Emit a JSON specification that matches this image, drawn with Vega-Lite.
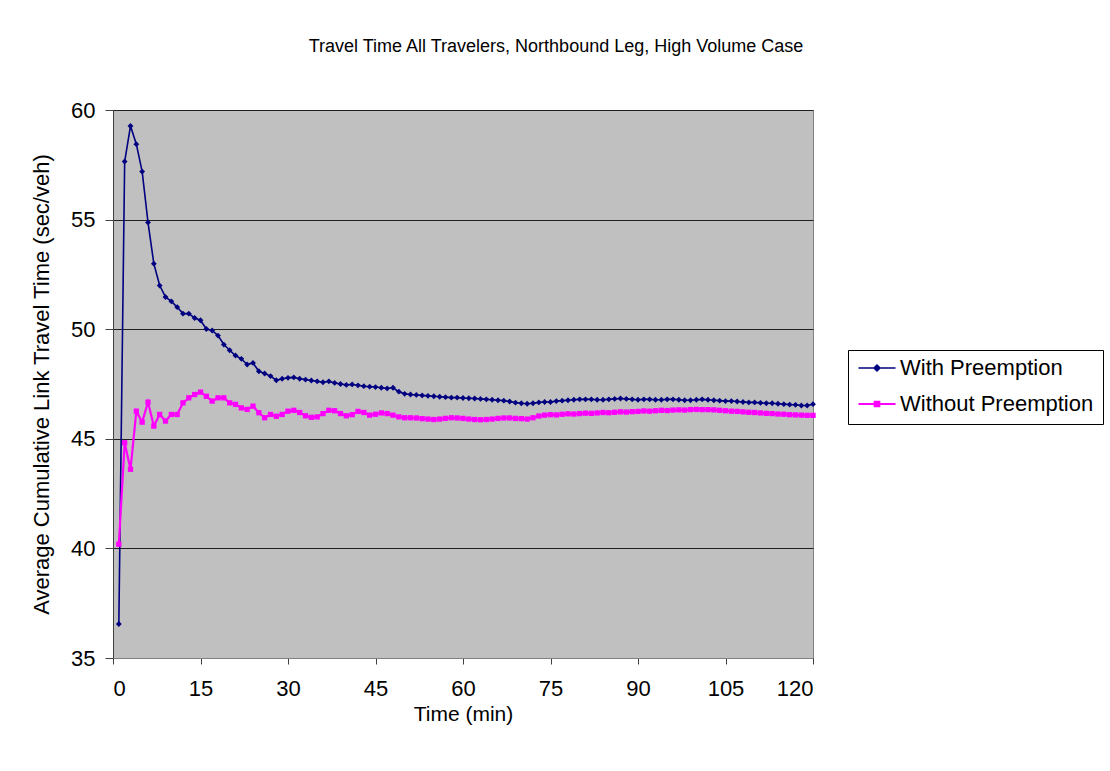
{
  "$schema": "https://vega.github.io/schema/vega-lite/v6.json",
  "width": 700,
  "height": 548,
  "autosize": {"type": "none"},
  "padding": {"left": 113, "top": 110, "right": 297, "bottom": 113},
  "background": "white",
  "config": {
    "font": "Liberation Sans",
    "view": {"fill": "#C0C0C0", "stroke": "#808080", "strokeWidth": 1}
  },
  "title": {
    "text": "Travel Time All Travelers, Northbound Leg, High Volume Case",
    "fontSize": 18,
    "fontWeight": "normal",
    "color": "black",
    "font": "Liberation Sans",
    "anchor": "middle",
    "dx": 93,
    "offset": 43
  },
  "data": {
    "values": [
      {"t":1,"With Preemption":36.55,"Without Preemption":40.19},
      {"t":2,"With Preemption":57.65,"Without Preemption":44.82},
      {"t":3,"With Preemption":59.27,"Without Preemption":43.61},
      {"t":4,"With Preemption":58.44,"Without Preemption":46.26},
      {"t":5,"With Preemption":57.19,"Without Preemption":45.76},
      {"t":6,"With Preemption":54.87,"Without Preemption":46.67},
      {"t":7,"With Preemption":52.99,"Without Preemption":45.58},
      {"t":8,"With Preemption":51.99,"Without Preemption":46.11},
      {"t":9,"With Preemption":51.47,"Without Preemption":45.81},
      {"t":10,"With Preemption":51.27,"Without Preemption":46.11},
      {"t":11,"With Preemption":51.01,"Without Preemption":46.11},
      {"t":12,"With Preemption":50.71,"Without Preemption":46.64},
      {"t":13,"With Preemption":50.71,"Without Preemption":46.87},
      {"t":14,"With Preemption":50.51,"Without Preemption":47.02},
      {"t":15,"With Preemption":50.41,"Without Preemption":47.13},
      {"t":16,"With Preemption":50.01,"Without Preemption":46.94},
      {"t":17,"With Preemption":49.94,"Without Preemption":46.72},
      {"t":18,"With Preemption":49.71,"Without Preemption":46.87},
      {"t":19,"With Preemption":49.30,"Without Preemption":46.87},
      {"t":20,"With Preemption":49.04,"Without Preemption":46.64},
      {"t":21,"With Preemption":48.80,"Without Preemption":46.57},
      {"t":22,"With Preemption":48.65,"Without Preemption":46.41},
      {"t":23,"With Preemption":48.39,"Without Preemption":46.34},
      {"t":24,"With Preemption":48.46,"Without Preemption":46.49},
      {"t":25,"With Preemption":48.08,"Without Preemption":46.19},
      {"t":26,"With Preemption":47.98,"Without Preemption":45.96},
      {"t":27,"With Preemption":47.86,"Without Preemption":46.11},
      {"t":28,"With Preemption":47.67,"Without Preemption":46.03},
      {"t":29,"With Preemption":47.74,"Without Preemption":46.11},
      {"t":30,"With Preemption":47.78,"Without Preemption":46.26},
      {"t":31,"With Preemption":47.80,"Without Preemption":46.30},
      {"t":32,"With Preemption":47.74,"Without Preemption":46.20},
      {"t":33,"With Preemption":47.70,"Without Preemption":46.05},
      {"t":34,"With Preemption":47.66,"Without Preemption":45.98},
      {"t":35,"With Preemption":47.62,"Without Preemption":46.00},
      {"t":36,"With Preemption":47.58,"Without Preemption":46.15},
      {"t":37,"With Preemption":47.62,"Without Preemption":46.30},
      {"t":38,"With Preemption":47.55,"Without Preemption":46.28},
      {"t":39,"With Preemption":47.50,"Without Preemption":46.15},
      {"t":40,"With Preemption":47.46,"Without Preemption":46.05},
      {"t":41,"With Preemption":47.48,"Without Preemption":46.10},
      {"t":42,"With Preemption":47.44,"Without Preemption":46.25},
      {"t":43,"With Preemption":47.40,"Without Preemption":46.20},
      {"t":44,"With Preemption":47.38,"Without Preemption":46.08},
      {"t":45,"With Preemption":47.36,"Without Preemption":46.12},
      {"t":46,"With Preemption":47.33,"Without Preemption":46.18},
      {"t":47,"With Preemption":47.30,"Without Preemption":46.15},
      {"t":48,"With Preemption":47.33,"Without Preemption":46.08},
      {"t":49,"With Preemption":47.15,"Without Preemption":46.00},
      {"t":50,"With Preemption":47.05,"Without Preemption":45.96},
      {"t":51,"With Preemption":47.02,"Without Preemption":45.96},
      {"t":52,"With Preemption":47.00,"Without Preemption":45.95},
      {"t":53,"With Preemption":46.98,"Without Preemption":45.92},
      {"t":54,"With Preemption":46.96,"Without Preemption":45.90},
      {"t":55,"With Preemption":46.94,"Without Preemption":45.88},
      {"t":56,"With Preemption":46.92,"Without Preemption":45.90},
      {"t":57,"With Preemption":46.90,"Without Preemption":45.93},
      {"t":58,"With Preemption":46.88,"Without Preemption":45.96},
      {"t":59,"With Preemption":46.88,"Without Preemption":45.95},
      {"t":60,"With Preemption":46.86,"Without Preemption":45.93},
      {"t":61,"With Preemption":46.85,"Without Preemption":45.90},
      {"t":62,"With Preemption":46.84,"Without Preemption":45.88},
      {"t":63,"With Preemption":46.82,"Without Preemption":45.87},
      {"t":64,"With Preemption":46.80,"Without Preemption":45.88},
      {"t":65,"With Preemption":46.78,"Without Preemption":45.90},
      {"t":66,"With Preemption":46.76,"Without Preemption":45.93},
      {"t":67,"With Preemption":46.74,"Without Preemption":45.95},
      {"t":68,"With Preemption":46.70,"Without Preemption":45.95},
      {"t":69,"With Preemption":46.65,"Without Preemption":45.93},
      {"t":70,"With Preemption":46.62,"Without Preemption":45.92},
      {"t":71,"With Preemption":46.60,"Without Preemption":45.90},
      {"t":72,"With Preemption":46.62,"Without Preemption":45.96},
      {"t":73,"With Preemption":46.66,"Without Preemption":46.04},
      {"t":74,"With Preemption":46.68,"Without Preemption":46.08},
      {"t":75,"With Preemption":46.68,"Without Preemption":46.10},
      {"t":76,"With Preemption":46.72,"Without Preemption":46.09},
      {"t":77,"With Preemption":46.74,"Without Preemption":46.12},
      {"t":78,"With Preemption":46.76,"Without Preemption":46.14},
      {"t":79,"With Preemption":46.78,"Without Preemption":46.13},
      {"t":80,"With Preemption":46.80,"Without Preemption":46.15},
      {"t":81,"With Preemption":46.80,"Without Preemption":46.17},
      {"t":82,"With Preemption":46.80,"Without Preemption":46.16},
      {"t":83,"With Preemption":46.78,"Without Preemption":46.18},
      {"t":84,"With Preemption":46.78,"Without Preemption":46.20},
      {"t":85,"With Preemption":46.80,"Without Preemption":46.19},
      {"t":86,"With Preemption":46.82,"Without Preemption":46.21},
      {"t":87,"With Preemption":46.84,"Without Preemption":46.23},
      {"t":88,"With Preemption":46.82,"Without Preemption":46.22},
      {"t":89,"With Preemption":46.80,"Without Preemption":46.24},
      {"t":90,"With Preemption":46.78,"Without Preemption":46.25},
      {"t":91,"With Preemption":46.80,"Without Preemption":46.27},
      {"t":92,"With Preemption":46.80,"Without Preemption":46.26},
      {"t":93,"With Preemption":46.78,"Without Preemption":46.28},
      {"t":94,"With Preemption":46.78,"Without Preemption":46.30},
      {"t":95,"With Preemption":46.80,"Without Preemption":46.29},
      {"t":96,"With Preemption":46.80,"Without Preemption":46.31},
      {"t":97,"With Preemption":46.78,"Without Preemption":46.32},
      {"t":98,"With Preemption":46.76,"Without Preemption":46.31},
      {"t":99,"With Preemption":46.76,"Without Preemption":46.33},
      {"t":100,"With Preemption":46.78,"Without Preemption":46.34},
      {"t":101,"With Preemption":46.80,"Without Preemption":46.33},
      {"t":102,"With Preemption":46.78,"Without Preemption":46.33},
      {"t":103,"With Preemption":46.76,"Without Preemption":46.32},
      {"t":104,"With Preemption":46.74,"Without Preemption":46.30},
      {"t":105,"With Preemption":46.72,"Without Preemption":46.28},
      {"t":106,"With Preemption":46.72,"Without Preemption":46.26},
      {"t":107,"With Preemption":46.70,"Without Preemption":46.25},
      {"t":108,"With Preemption":46.68,"Without Preemption":46.23},
      {"t":109,"With Preemption":46.66,"Without Preemption":46.21},
      {"t":110,"With Preemption":46.66,"Without Preemption":46.20},
      {"t":111,"With Preemption":46.64,"Without Preemption":46.18},
      {"t":112,"With Preemption":46.62,"Without Preemption":46.16},
      {"t":113,"With Preemption":46.62,"Without Preemption":46.15},
      {"t":114,"With Preemption":46.60,"Without Preemption":46.13},
      {"t":115,"With Preemption":46.58,"Without Preemption":46.12},
      {"t":116,"With Preemption":46.56,"Without Preemption":46.10},
      {"t":117,"With Preemption":46.55,"Without Preemption":46.09},
      {"t":118,"With Preemption":46.52,"Without Preemption":46.08},
      {"t":119,"With Preemption":46.52,"Without Preemption":46.07},
      {"t":120,"With Preemption":46.58,"Without Preemption":46.07}
    ]
  },
  "transform": [
    {"fold": ["With Preemption", "Without Preemption"], "as": ["series", "v"]}
  ],
  "encoding": {
    "x": {
      "field": "t",
      "type": "quantitative",
      "scale": {"domain": [0, 120], "nice": false, "zero": false},
      "axis": {
        "values": [0, 15, 30, 45, 60, 75, 90, 105, 120],
        "title": "Time (min)",
        "titleFontSize": 21,
        "titleFontWeight": "normal",
        "titleColor": "black",
        "titlePadding": 4,
        "labelFontSize": 22,
        "labelColor": "black",
        "labelPadding": 14,
        "tickSize": 6,
        "tickColor": "#404040",
        "domainColor": "#808080",
        "grid": false
      }
    },
    "y": {
      "field": "v",
      "type": "quantitative",
      "scale": {"domain": [35, 60], "nice": false, "zero": false},
      "axis": {
        "values": [35, 40, 45, 50, 55, 60],
        "title": "Average Cumulative Link Travel Time (sec/veh)",
        "titleFontSize": 22,
        "titleFontWeight": "normal",
        "titleColor": "black",
        "titlePadding": 17,
        "labelFontSize": 22,
        "labelColor": "black",
        "labelPadding": 10,
        "tickSize": 8,
        "tickColor": "#404040",
        "domainColor": "#404040",
        "grid": true,
        "gridColor": "#202020",
        "gridWidth": 1.2
      }
    },
    "color": {
      "field": "series",
      "type": "nominal",
      "scale": {"domain": ["With Preemption", "Without Preemption"], "range": ["#000080", "#FF00FF"]},
      "legend": {
        "title": null,
        "orient": "none",
        "legendX": 735,
        "legendY": 240,
        "strokeColor": "black",
        "fillColor": "white",
        "padding": 9,
        "labelFontSize": 22,
        "labelColor": "black",
        "labelFont": "Liberation Sans",
        "labelLimit": 400,
        "symbolSize": 1369,
        "clipHeight": 18,
        "rowPadding": 14,
        "labelOffset": 3,
        "encode": {
          "symbols": {
            "update": {
              "shape": {"signal": "datum.value === 'With Preemption' ? 'M-1,0L1,0M-0.16,0L0,-0.16L0.16,0L0,0.16Z' : 'M-1,0L1,0M-0.12,-0.12L0.12,-0.12L0.12,0.12L-0.12,0.12Z'"},
              "strokeWidth": {"signal": "datum.value === 'With Preemption' ? 1.5 : 2"},
              "fill": {"signal": "datum.value === 'With Preemption' ? '#000080' : '#FF00FF'"},
              "stroke": {"signal": "datum.value === 'With Preemption' ? '#000080' : '#FF00FF'"},
              "fillOpacity": {"value": 1},
              "opacity": {"value": 1}
            }
          }
        }
      }
    }
  },
  "layer": [
    {
      "mark": {"type": "line"},
      "encoding": {
        "strokeWidth": {
          "field": "series",
          "type": "nominal",
          "scale": {"domain": ["With Preemption", "Without Preemption"], "range": [1.6, 2.2]},
          "legend": null
        }
      }
    },
    {
      "transform": [{"filter": "datum.series === 'With Preemption'"}],
      "mark": {"type": "point", "filled": true, "opacity": 1, "shape": "diamond", "size": 34}
    },
    {
      "transform": [{"filter": "datum.series === 'Without Preemption'"}],
      "mark": {"type": "point", "filled": true, "opacity": 1, "shape": "square", "size": 28}
    }
  ]
}
